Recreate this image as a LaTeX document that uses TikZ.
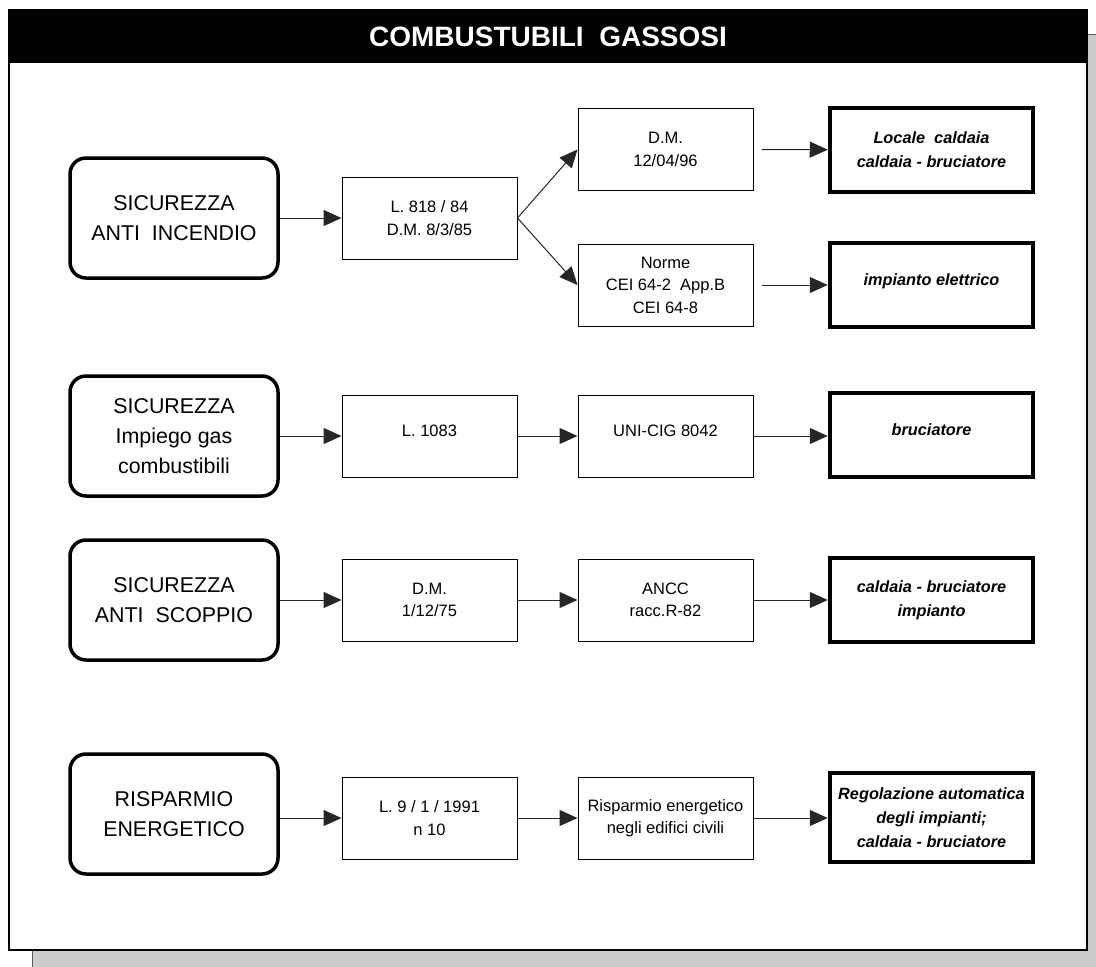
\documentclass[tikz,border=0pt]{standalone}
\usepackage{fontspec}
\setmainfont{Liberation Sans}
\usetikzlibrary{arrows.meta}
\begin{document}
\begin{tikzpicture}[x=1pt,y=-1pt,
  lbox/.style={draw=black, line width=3.5pt, rounded corners=16pt, minimum width=208pt, minimum height=120pt, align=center, font=\fontsize{21.4}{30}\selectfont, inner sep=0pt},
  nbox/.style={draw=black, line width=1pt, minimum width=175pt, minimum height=82pt, align=center, font=\fontsize{16.5}{22.5}\selectfont, inner sep=0pt},
  rbox/.style={draw=black, line width=4.5pt, minimum width=203pt, minimum height=84pt, align=center, font=\fontsize{16.3}{24}\bfseries\itshape\selectfont, inner sep=0pt},
  oneline/.style={text depth=10pt},
  arr/.style={-{Triangle[length=18pt,width=16pt]}, line width=1pt, draw=black!85},
]
\useasboundingbox (0,0) rectangle (1096,967);
% shadow
\fill[black!20] (32,34) rectangle (1096,967);
\draw[black!65, line width=1pt] (32,950) -- (32,967);
\draw[black!65, line width=1pt] (1087,34) -- (1096,34);
% frame
\draw[fill=white, line width=1.5pt] (9,10) rectangle (1087,950);
\fill[black] (8,10) rectangle (1088,63);
\node[text=white, font=\fontsize{28}{34}\bfseries\selectfont] (title) at (548,37) {COMBUSTUBILI\ \ GASSOSI};

% left column
\node[lbox] (s1) at (174,218) {SICUREZZA\\ANTI\ \ INCENDIO};
\node[lbox] (s2) at (174,436) {SICUREZZA\\Impiego gas\\combustibili};
\node[lbox] (s3) at (174,600) {SICUREZZA\\ANTI\ \ SCOPPIO};
\node[lbox] (s4) at (174,814) {RISPARMIO\\ENERGETICO};

% second column
\node[nbox] (l1) at (429.5,218) {L. 818 / 84\\D.M. 8/3/85};
\node[nbox, oneline] (l2) at (429.5,436) {L. 1083};
\node[nbox] (l3) at (429.5,600) {D.M.\\1/12/75};
\node[nbox] (l4) at (429.5,818) {L. 9 / 1 / 1991\\n 10};

% third column
\node[nbox] (m1) at (665.5,149.5) {D.M.\\12/04/96};
\node[nbox] (m2) at (665.5,285) {Norme\\CEI 64-2\ \ App.B\\CEI 64-8};
\node[nbox, oneline] (m3) at (665.5,436) {UNI-CIG 8042};
\node[nbox] (m4) at (665.5,600) {ANCC\\racc.R-82};
\node[nbox] (m5) at (665.5,818) {Risparmio energetico\\negli edifici civili};

% fourth column
\node[rbox] (r1) at (931.5,150) {Locale\ \ caldaia\\caldaia - bruciatore};
\node[rbox, oneline] (r2) at (931.5,285) {impianto elettrico};
\node[rbox, oneline] (r3) at (931.5,435) {bruciatore};
\node[rbox] (r4) at (931.5,600) {caldaia - bruciatore\\impianto};
\node[rbox, minimum height=89pt] (r5) at (931.5,817.5) {Regolazione automatica\\degli impianti;\\caldaia - bruciatore};

% connectors
\draw[arr] (s1) -- (l1);
\draw[arr] (l1.east) -- (m1.west);
\draw[arr] (l1.east) -- (m2.west);
\draw[arr] ([xshift=8pt]m1.east) -- (r1);
\draw[arr] ([xshift=8pt]m2.east) -- (r2.west |- m2);

\draw[arr] (s2) -- (l2.west |- s2);
\draw[arr] (l2) -- (m3);
\draw[arr] (m3) -- (r3.west |- m3);

\draw[arr] (s3) -- (l3);
\draw[arr] (l3) -- (m4);
\draw[arr] (m4) -- (r4);

\draw[arr] (s4.east |- l4) -- (l4);
\draw[arr] (l4) -- (m5);
\draw[arr] (m5) -- (r5.west |- m5);
\end{tikzpicture}
\end{document}
